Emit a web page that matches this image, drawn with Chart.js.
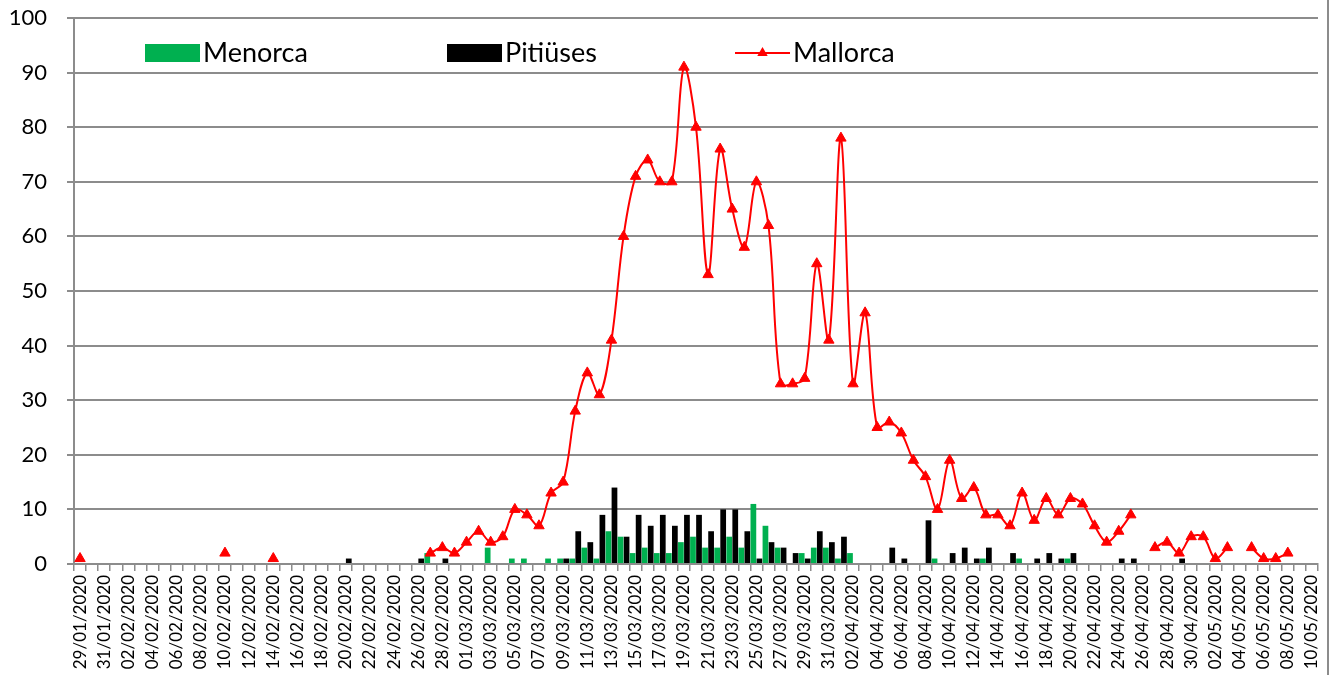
<!DOCTYPE html>
<html>
<head>
<meta charset="utf-8">
<style>
  body { margin: 0; background: #fff; }
  #wrap { position: relative; width: 1333px; height: 675px; }
</style>
</head>
<body>
<div id="wrap"><canvas id="chart"></canvas></div>
<script src="https://cdn.jsdelivr.net/npm/chart.js@4/dist/chart.umd.min.js"></script>
<script>
/* DATA */
const days = [];
for (let d = new Date(2020, 0, 29); d <= new Date(2020, 4, 10); d.setDate(d.getDate() + 1)) {
  days.push(
    String(d.getDate()).padStart(2, '0') + '/' +
    String(d.getMonth() + 1).padStart(2, '0') + '/' + d.getFullYear()
  );
}

// 29/01 .. 10/05, ten days per row
const menorca = [
  0, 0, 0, 0, 0, 0, 0, 0, 0, 0,
  0, 0, 0, 0, 0, 0, 0, 0, 0, 0,
  0, 0, 0, 0, 0, 0, 0, 0, 0, 2,
  0, 0, 0, 0, 3, 0, 1, 1, 0, 1,
  1, 1, 3, 1, 6, 5, 2, 3, 2, 2,
  4, 5, 3, 3, 5, 3, 11, 7, 3, 0,
  2, 3, 3, 1, 2, 0, 0, 0, 0, 0,
  0, 1, 0, 0, 0, 1, 0, 0, 1, 0,
  0, 0, 1, 0, 0, 0, 0, 0, 0, 0,
  0, 0, 0, 0, 0, 0, 0, 0, 0, 0,
  0, 0, 0,
];

const pitiuses = [
  0, 0, 0, 0, 0, 0, 0, 0, 0, 0,
  0, 0, 0, 0, 0, 0, 0, 0, 0, 0,
  0, 0, 1, 0, 0, 0, 0, 0, 1, 0,
  1, 0, 0, 0, 0, 0, 0, 0, 0, 0,
  1, 6, 4, 9, 14, 5, 9, 7, 9, 7,
  9, 9, 6, 10, 10, 6, 1, 4, 3, 2,
  1, 6, 4, 5, 0, 0, 0, 3, 1, 0,
  8, 0, 2, 3, 1, 3, 0, 2, 0, 1,
  2, 1, 2, 0, 0, 0, 1, 1, 0, 0,
  0, 1, 0, 0, 0, 0, 0, 0, 0, 0,
  0, 0, 0,
];

const mallorca = [
  1, null, null, null, null, null, null, null, null, null,
  null, null, 2, null, null, null, 1, null, null, null,
  null, null, null, null, null, null, null, null, null, 2,
  3, 2, 4, 6, 4, 5, 10, 9, 7, 13,
  15, 28, 35, 31, 41, 60, 71, 74, 70, 70,
  91, 80, 53, 76, 65, 58, 70, 62, 33, 33,
  34, 55, 41, 78, 33, 46, 25, 26, 24, 19,
  16, 10, 19, 12, 14, 9, 9, 7, 13, 8,
  12, 9, 12, 11, 7, 4, 6, 9, null, 3,
  4, 2, 5, 5, 1, 3, null, 3, 1, 1,
  2, null, null,
];

const FONT = 'Lato, "Liberation Sans", sans-serif';
const GRID = '#8c8c8c';

/* LEGEND INSIDE THE PLOT + RIGHT FRAME LINE */
const insideLegend = {
  id: 'insideLegend',
  afterDraw(chart, args, opts) {
    const ctx = chart.ctx;
    ctx.save();
    chart.data.datasets.forEach((ds, i) => {
      const x = opts.xs[i];
      const y = opts.y;
      if (ds.type === 'line') {
        ctx.strokeStyle = ds.borderColor;
        ctx.lineWidth = 2;
        ctx.beginPath();
        ctx.moveTo(x, y);
        ctx.lineTo(x + opts.boxWidth, y);
        ctx.stroke();
        const cx = x + opts.boxWidth / 2, r = 6;
        ctx.fillStyle = ds.pointBackgroundColor;
        ctx.beginPath();
        ctx.moveTo(cx, y - r);
        ctx.lineTo(cx + r * 0.87, y + r * 0.5);
        ctx.lineTo(cx - r * 0.87, y + r * 0.5);
        ctx.closePath();
        ctx.fill();
      } else {
        ctx.fillStyle = ds.backgroundColor;
        ctx.fillRect(x, y - 9, opts.boxWidth, 18);
      }
      ctx.fillStyle = '#000';
      ctx.font = opts.font;
      ctx.textBaseline = 'middle';
      ctx.textAlign = 'left';
      ctx.fillText(ds.label, x + opts.boxWidth + 3, y);
    });
    ctx.strokeStyle = GRID;
    ctx.lineWidth = 2;
    ctx.beginPath();
    ctx.moveTo(opts.frameX, 0);
    ctx.lineTo(opts.frameX, chart.height);
    ctx.stroke();
    ctx.restore();
  },
};

new Chart(document.getElementById('chart'), {
  type: 'bar',
  data: {
    labels: days,
    datasets: [
      {
        label: 'Menorca',
        data: menorca,
        backgroundColor: '#00B050',
        borderWidth: 0,
        categoryPercentage: 1,
        barPercentage: 0.95,
        order: 1,
      },
      {
        label: 'Pitiüses',
        data: pitiuses,
        backgroundColor: '#000000',
        borderWidth: 0,
        categoryPercentage: 1,
        barPercentage: 0.95,
        order: 1,
      },
      {
        type: 'line',
        label: 'Mallorca',
        data: mallorca,
        borderColor: '#FF0000',
        borderWidth: 2,
        tension: 0.35,
        spanGaps: false,
        pointStyle: 'triangle',
        pointRadius: 6,
        pointBorderWidth: 1,
        pointBackgroundColor: '#FF0000',
        pointBorderColor: '#FF0000',
        order: 0,
      },
    ],
  },
  options: {
    responsive: true,
    maintainAspectRatio: false,
    animation: false,
    layout: { padding: { left: 0, right: 15, top: 18, bottom: 0 } },
    plugins: {
      legend: { display: false },
      tooltip: { enabled: false },
      insideLegend: {
        xs: [145, 447, 735],
        y: 53,
        boxWidth: 55,
        font: '27px ' + FONT,
        frameX: 1328,
      },
    },
    scales: {
      x: {
        grid: {
          drawOnChartArea: false,
          drawTicks: true,
          tickLength: 7,
          color: GRID,
          lineWidth: 1.5,
        },
        border: { color: GRID, width: 2 },
        ticks: {
          autoSkip: false,
          maxRotation: 90,
          minRotation: 90,
          padding: 4,
          color: '#000',
          font: { family: FONT, size: 17 },
          callback(value, index) {
            return index % 2 === 0 ? this.getLabelForValue(value) : '';
          },
        },
        afterFit(scale) {
          scale.height = 111;
          scale.paddingLeft = 0;
          scale.paddingRight = 0;
        },
      },
      y: {
        min: 0,
        max: 100,
        grid: { color: GRID, lineWidth: 2, tickLength: 7 },
        border: { color: GRID, width: 2 },
        ticks: {
          stepSize: 10,
          padding: 20,
          color: '#000',
          font: { family: FONT, size: 22 },
        },
        afterFit(scale) {
          scale.width = 74;
          scale.paddingTop = 0;
          scale.paddingBottom = 0;
        },
      },
    },
  },
  plugins: [insideLegend],
});
</script>
</body>
</html>
